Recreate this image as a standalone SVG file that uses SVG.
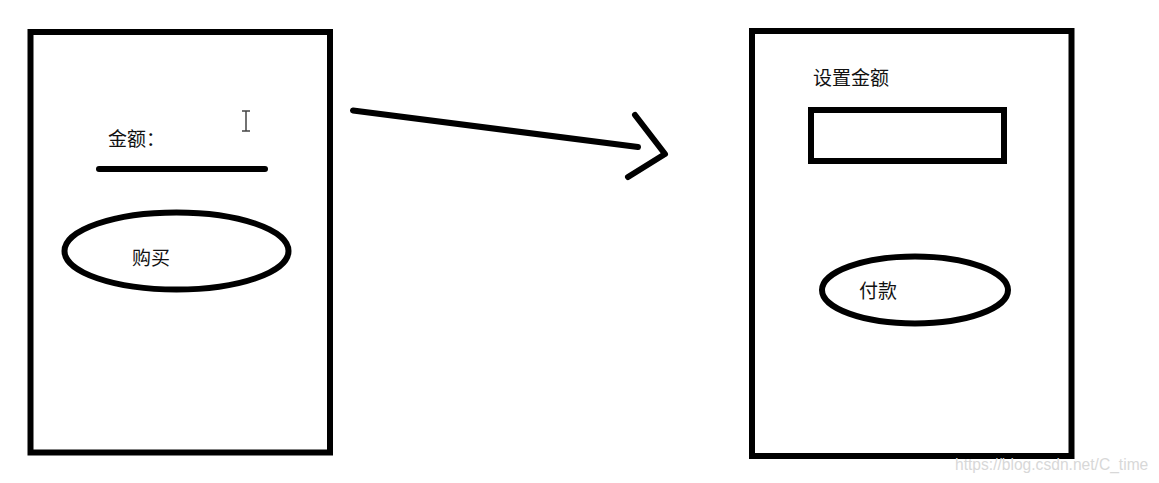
<svg xmlns="http://www.w3.org/2000/svg" width="1159" height="483" viewBox="0 0 1159 483">
  <style>
    .box { fill: none; stroke: #000; stroke-width: 6; }
    .ell { fill: none; stroke: #000; stroke-width: 6; }
    .lbl { font-family: "Noto Sans CJK SC", "Liberation Sans", sans-serif; font-size: 19px; fill: #111; }
    .conn { fill: none; stroke: #000; stroke-width: 6; stroke-linecap: round; stroke-linejoin: round; }
    .wm { font-family: "Liberation Sans", Arial, sans-serif; font-size: 15.6px; fill: #d8d8d8; }
  </style>
  <rect width="1159" height="483" fill="#ffffff"/>

  <g id="screen-left">
    <rect class="box" x="30.5" y="32" width="299.5" height="420.5"/>
    <g id="amount-label">
      <text class="lbl" x="108" y="146">金额：</text>
    </g>
    <g id="amount-underline">
      <line class="conn" x1="99" y1="169" x2="265" y2="169"/>
    </g>
    <g id="cursor">
      <path d="M242 111 H250 M246 111 V131 M242 131 H250" fill="none" stroke="#444" stroke-width="1.5"/>
    </g>
    <g id="buy-button">
      <ellipse class="ell" cx="176.5" cy="251" rx="112" ry="38.5"/>
      <text class="lbl" x="132" y="265">购买</text>
    </g>
  </g>

  <g id="screen-right">
    <rect class="box" x="752" y="31" width="319.5" height="425"/>
    <g id="set-amount-label">
      <text class="lbl" x="813" y="85">设置金额</text>
    </g>
    <g id="amount-input">
      <rect class="box" x="811" y="110" width="193" height="51"/>
    </g>
    <g id="pay-button">
      <ellipse class="ell" cx="915" cy="290" rx="93" ry="33.5"/>
      <text class="lbl" x="859" y="298">付款</text>
    </g>
  </g>

  <g id="connectors">
    <line class="conn" x1="353" y1="110.5" x2="638" y2="147"/>
    <polyline class="conn" points="635,115 665,154 628,177"/>
  </g>

  <text class="wm" x="955" y="470">https://blog.csdn.net/C_time</text>
</svg>
